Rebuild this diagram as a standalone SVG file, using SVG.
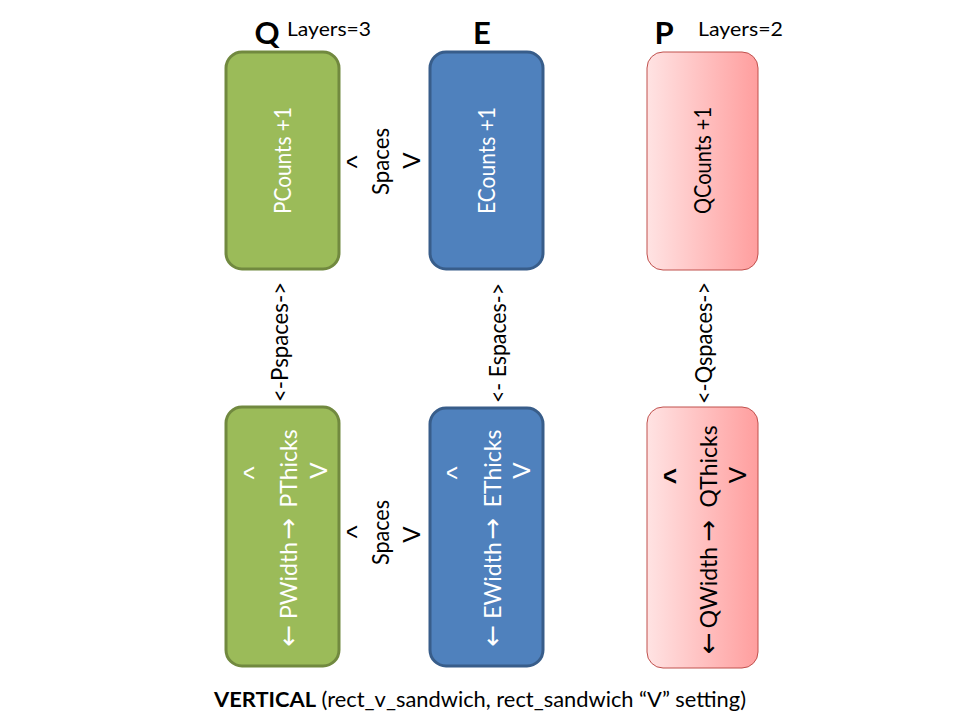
<svg xmlns="http://www.w3.org/2000/svg" width="960" height="720" viewBox="0 0 960 720">
<defs>
<linearGradient id="pinkGrad" x1="0" y1="0" x2="1" y2="0">
<stop offset="0" stop-color="#FFE3E3"/>
<stop offset="1" stop-color="#FF9E9E"/>
</linearGradient>
<style>
text { font-family: Lato, "Open Sans", "Liberation Sans", sans-serif; }
.box-g { fill:#9BBB59; stroke:#71893F; stroke-width:3; }
.box-b { fill:#4F81BD; stroke:#385D8A; stroke-width:3; }
.box-p { fill:url(#pinkGrad); stroke:#C0504D; stroke-width:1; }
.lbl { font-size:24px; text-anchor:middle; }
.w { fill:#FFFFFF; }
.k { fill:#000000; }
.arr { font-family: "DejaVu Sans", sans-serif; font-size:26px; }
.wd { font-size:23px; }
.crt { font-family: "Liberation Sans", sans-serif; font-size:28px; }
.title { font-size:31px; font-weight:bold; text-anchor:middle; fill:#000; }
.layers { font-size:20px; fill:#000; }
.cap { font-size:21px; fill:#000; }
</style>
</defs>
<rect width="960" height="720" fill="#FFFFFF"/>

<g id="headers">
<text class="title" x="267" y="44">Q</text>
<text class="layers" x="287" y="36" textLength="84" lengthAdjust="spacingAndGlyphs">Layers=3</text>
<text class="title" x="482" y="44">E</text>
<text class="title" x="664" y="44">P</text>
<text class="layers" x="698" y="36" textLength="85" lengthAdjust="spacingAndGlyphs">Layers=2</text>
</g>

<g id="node-q-top">
<rect class="box-g" x="226" y="52" width="113" height="217" rx="16"/>
<text class="lbl w" transform="translate(291,160.5) rotate(-90)" textLength="107" lengthAdjust="spacingAndGlyphs">PCounts +1</text>
</g>
<g id="node-e-top">
<rect class="box-b" x="430" y="52" width="113" height="217" rx="16"/>
<text class="lbl w" transform="translate(495,160.5) rotate(-90)" textLength="107" lengthAdjust="spacingAndGlyphs">ECounts +1</text>
</g>
<g id="node-p-top">
<rect class="box-p" x="647" y="52" width="111" height="218" rx="16"/>
<text class="lbl k" transform="translate(711,160.5) rotate(-90)" textLength="107" lengthAdjust="spacingAndGlyphs">QCounts +1</text>
</g>

<g id="node-q-bottom">
<rect class="box-g" x="226" y="407" width="113" height="259" rx="16"/>
<text class="lbl w crt" transform="translate(263,473) rotate(-90)">^</text>
<text class="lbl w" transform="translate(297,536.5) rotate(-90)"><tspan class="arr" x="-99">←</tspan><tspan class="wd" x="-44"> PWidth </tspan><tspan class="arr" x="8">→</tspan><tspan class="wd" x="65.2"> PThicks</tspan></text>
<text class="lbl w" transform="translate(327,470.5) rotate(-90)">V</text>
</g>
<g id="node-e-bottom">
<rect class="box-b" x="430" y="408" width="113" height="258" rx="16"/>
<text class="lbl w crt" transform="translate(466,473) rotate(-90)">^</text>
<text class="lbl w" transform="translate(501,536.5) rotate(-90)"><tspan class="arr" x="-99">←</tspan><tspan class="wd" x="-44"> EWidth </tspan><tspan class="arr" x="8">→</tspan><tspan class="wd" x="65.2"> EThicks</tspan></text>
<text class="lbl w" transform="translate(530,470.5) rotate(-90)">V</text>
</g>
<g id="node-p-bottom">
<rect class="box-p" x="647" y="407" width="111" height="261" rx="16"/>
<text class="lbl k crt" transform="translate(683,476) rotate(-90)" font-weight="bold">^</text>
<text class="lbl k" transform="translate(717,537) rotate(-90)"><tspan class="arr" x="-106">←</tspan><tspan class="wd" x="-50.5"> QWidth </tspan><tspan class="arr" x="6.5">→</tspan><tspan class="wd" x="67.7"> QThicks</tspan></text>
<text class="lbl k" transform="translate(746,475) rotate(-90)">V</text>
</g>

<g id="connectors">
<g id="spaces-top">
<text class="lbl k crt" transform="translate(366,162) rotate(-90)">^</text>
<text class="lbl k" transform="translate(389,161.5) rotate(-90)" textLength="67" lengthAdjust="spacingAndGlyphs">Spaces</text>
<text class="lbl k" transform="translate(420,160.5) rotate(-90)">V</text>
</g>
<g id="spaces-bottom">
<text class="lbl k crt" transform="translate(366,532) rotate(-90)">^</text>
<text class="lbl k" transform="translate(389,532.5) rotate(-90)" textLength="65" lengthAdjust="spacingAndGlyphs">Spaces</text>
<text class="lbl k" transform="translate(420,534.5) rotate(-90)">V</text>
</g>
<text class="lbl k" transform="translate(288,342) rotate(-90)" textLength="120" lengthAdjust="spacingAndGlyphs">&lt;-Pspaces-&gt;</text>
<text class="lbl k" transform="translate(506,343) rotate(-90)" textLength="120" lengthAdjust="spacingAndGlyphs">&lt;- Espaces-&gt;</text>
<text class="lbl k" transform="translate(712,343) rotate(-90)" textLength="122" lengthAdjust="spacingAndGlyphs">&lt;-Qspaces-&gt;</text>
</g>

<g id="caption">
<text class="cap" x="214" y="707" textLength="532" lengthAdjust="spacingAndGlyphs"><tspan font-weight="bold">VERTICAL</tspan> (rect_v_sandwich, rect_sandwich “V” setting)</text>
</g>
</svg>
